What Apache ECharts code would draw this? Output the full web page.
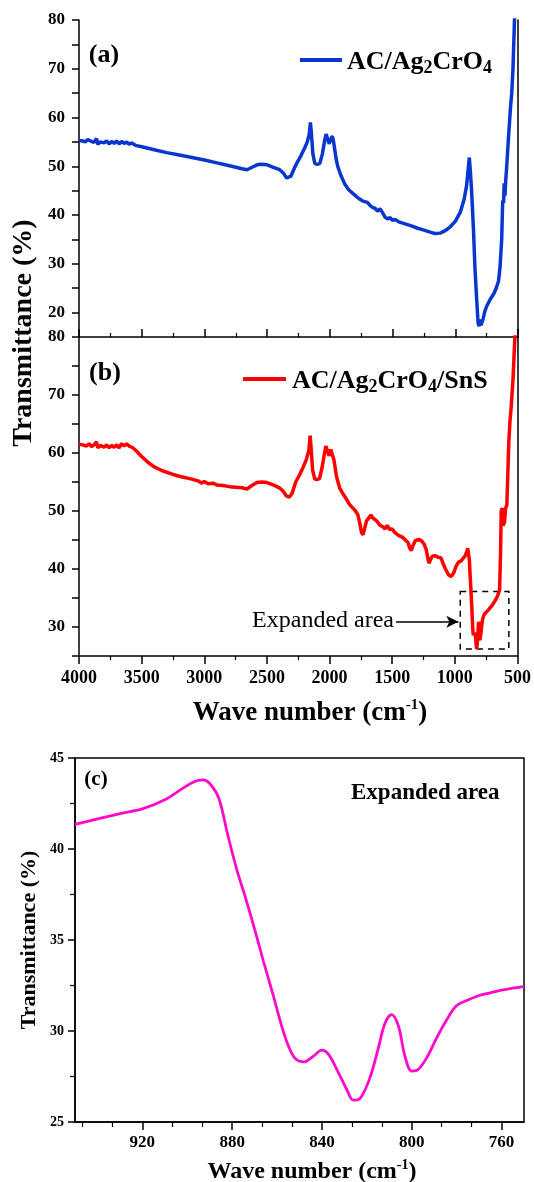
<!DOCTYPE html>
<html>
<head>
<meta charset="utf-8">
<script src="https://cdn.jsdelivr.net/npm/echarts@6/dist/echarts.min.js"></script>
<style>
  html, body { margin: 0; padding: 0; background: #fff; }
  #chart { width: 534px; height: 1182px; }
</style>
</head>
<body>
<div id="chart"></div>
<script>
// FTIR spectra, panel (a) AC/Ag2CrO4
const waveA = [
  4000, 3970, 3950, 3930, 3900, 3880, 3860, 3850, 3830, 3800,
  3780, 3760, 3740, 3720, 3700, 3680, 3660, 3640, 3620, 3600,
  3580, 3550, 3500, 3400, 3300, 3200, 3100, 3000, 2900, 2800,
  2700, 2660, 2620, 2580, 2550, 2500, 2450, 2400, 2370, 2345,
  2330, 2310, 2280, 2260, 2230, 2200, 2180, 2165, 2155, 2148,
  2135, 2120, 2100, 2080, 2060, 2040, 2030, 2020, 2005, 1995,
  1980, 1970, 1950, 1935, 1910, 1880, 1850, 1810, 1770, 1730,
  1700, 1680, 1660, 1640, 1620, 1600, 1580, 1560, 1540, 1520,
  1500, 1480, 1450, 1400, 1350, 1300, 1250, 1200, 1160, 1120,
  1080, 1040, 1000, 960, 930, 910, 895, 888, 880, 870,
  855, 843, 830, 818, 810, 803, 795, 787, 777, 765,
  750, 720, 690, 670, 655, 643, 630, 622, 615, 610,
  604, 598, 590, 577, 560, 550, 540, 528, 520
]
const transA = [
  55.3, 55.2, 55.0, 55.5, 55.1, 54.9, 55.7, 54.5, 55.0, 54.8,
  55.2, 54.6, 55.1, 54.7, 55.2, 54.6, 55.1, 54.7, 55.0, 54.5,
  54.8, 54.3, 54.0, 53.4, 52.8, 52.3, 51.8, 51.3, 50.7, 50.1,
  49.5, 49.3, 49.8, 50.3, 50.4, 50.3, 49.8, 49.3, 48.6, 47.6,
  47.4, 48.0, 49.8, 50.8, 52.2, 53.8, 55.0, 56.5, 59.0, 57.0,
  52.5, 50.6, 50.4, 50.6, 52.5, 55.5, 56.6, 56.2, 54.6, 55.5,
  56.2, 55.0, 51.5, 49.8, 48.0, 46.3, 45.2, 44.3, 43.4, 42.8,
  42.6, 42.0, 41.6, 41.4, 40.8, 41.3, 40.5, 39.6, 39.2, 39.5,
  38.9, 39.1, 38.6, 38.2, 37.8, 37.3, 36.9, 36.5, 36.2, 36.3,
  36.8, 37.6, 38.7, 40.6, 43.2, 46.0, 50.0, 51.8, 49.0, 45.0,
  37.0, 29.0, 23.0, 17.8, 17.2, 18.6, 17.4, 17.6, 18.8, 20.2,
  21.3, 22.8, 24.0, 25.3, 26.5, 29.4, 35.0, 43.0, 42.5, 46.5,
  44.0, 47.0, 50.0, 55.4, 62.0, 65.0, 70.0, 80.0, 85.0
]

// panel (b) AC/Ag2CrO4/SnS
const waveB = [
  4000, 3970, 3940, 3920, 3900, 3880, 3860, 3850, 3830, 3800,
  3780, 3760, 3740, 3720, 3700, 3680, 3660, 3640, 3620, 3600,
  3570, 3540, 3500, 3450, 3400, 3330, 3250, 3200, 3100, 3050,
  3020, 3000, 2970, 2930, 2900, 2850, 2800, 2750, 2700, 2660,
  2620, 2580, 2540, 2500, 2450, 2400, 2370, 2345, 2320, 2300,
  2270, 2240, 2210, 2185, 2165, 2155, 2148, 2135, 2118, 2100,
  2080, 2060, 2040, 2030, 2015, 2005, 1990, 1978, 1965, 1945,
  1920, 1900, 1870, 1840, 1800, 1775, 1760, 1745, 1733, 1720,
  1705, 1690, 1670, 1655, 1640, 1620, 1600, 1575, 1560, 1540,
  1520, 1500, 1480, 1450, 1420, 1395, 1375, 1360, 1348, 1335,
  1315, 1290, 1268, 1245, 1228, 1215, 1207, 1195, 1180, 1160,
  1130, 1110, 1095, 1075, 1050, 1030, 1010, 990, 970, 950,
  940, 920, 905, 897, 893, 889, 884, 879, 874, 868,
  862, 857, 853, 848, 843, 840, 836, 831, 826, 822,
  818, 814, 810, 806, 803, 800, 796, 791, 785, 778,
  765, 750, 730, 700, 680, 660, 643, 635, 630, 622,
  615, 604, 595, 585, 575, 569, 560, 550, 535, 524,
  515
]
const transB = [
  61.5, 61.4, 61.2, 61.6, 61.1, 61.4, 61.9, 60.9, 61.3, 61.0,
  61.4, 60.9, 61.3, 61.0, 61.4, 60.9, 61.6, 61.2, 61.6, 61.2,
  60.9, 60.3, 59.4, 58.4, 57.6, 56.9, 56.3, 56.0, 55.5, 55.2,
  54.8, 55.1, 54.7, 54.8, 54.5, 54.4, 54.2, 54.1, 54.0, 53.8,
  54.4, 54.9, 55.0, 54.9, 54.5, 54.0, 53.4, 52.6, 52.4, 53.0,
  55.0, 56.2, 57.6, 58.9, 60.5, 63.0, 61.0, 57.0, 55.5, 55.4,
  55.6, 57.5, 60.0, 61.2, 60.3, 59.5, 60.6, 60.7, 58.8, 56.0,
  54.0, 53.2, 52.2, 51.1, 50.2, 49.4, 48.0, 46.3, 45.9, 47.0,
  48.3, 48.5, 49.3, 48.8, 49.0, 48.2, 47.6, 47.3, 46.9, 47.5,
  46.8, 46.9, 46.3, 45.8, 45.5, 45.0, 44.6, 43.6, 43.2, 44.0,
  44.9, 45.1, 44.9, 44.3, 43.3, 41.8, 41.0, 41.6, 42.2, 42.3,
  42.0, 41.9, 41.0, 40.0, 39.0, 38.7, 39.3, 40.5, 41.2, 41.4,
  41.7, 42.2, 43.0, 43.6, 43.8, 43.4, 41.5, 39.2, 37.3, 34.8,
  32.1, 29.6, 28.6, 28.3, 28.7, 29.0, 28.5, 27.2, 26.2, 26.5,
  27.9, 29.7, 30.9, 30.0, 28.6, 27.7, 28.0, 29.1, 30.3, 31.4,
  32.2, 32.5, 33.0, 33.8, 34.5, 35.3, 36.4, 43.0, 50.0, 50.5,
  47.5, 48.0, 50.5, 51.0, 58.0, 62.0, 65.5, 68.0, 73.0, 78.5,
  82.0
]

// panel (c) expanded area of (b)
const waveC = [
  950, 940, 930, 920, 910, 903, 897, 893, 890, 886,
  882, 878, 874, 870, 866, 862, 858, 855, 852, 848,
  844, 840, 837, 833, 829, 826, 823, 819, 815, 812,
  809, 806, 803, 800, 797, 793, 789, 785, 780, 775,
  770, 765, 760, 755, 750
]
const transC = [
  41.35, 41.65, 41.95, 42.2, 42.7, 43.25, 43.7, 43.8, 43.6, 42.8,
  40.8, 38.9, 37.3, 35.6, 33.8, 32.1, 30.3, 29.2, 28.5, 28.3,
  28.6, 28.95, 28.7, 27.8, 26.8, 26.2, 26.3, 27.3, 29.0, 30.4,
  30.9, 30.3, 28.6, 27.8, 27.9, 28.6, 29.6, 30.5, 31.4, 31.7,
  31.95, 32.1, 32.25, 32.35, 32.45
]
const ticksC = [760, 800, 840, 880, 920]

// dashed box + arrow in panel (b)
const boxB = [[957, 36.1], [569, 26.2]]
const arrowB = [[1470, 30.9], [972, 30.9]]

const FONT = '"Liberation Serif", "Times New Roman", serif'
const zip = (xs, ys) => xs.map((x, i) => [x, ys[i]])

// minor ticks of (c): two between each labelled tick
const minorC = []
ticksC.forEach(t => {
  ;[1, 2].forEach(k => {
    const v = +(t + k * 40 / 3).toFixed(2)
    if (v < 950) minorC.push(v)
  })
})

const axisLine = { show: true, onZero: false, lineStyle: { color: '#000', width: 1.5 } }

function xWide(grid, showLabel) {
  return {
    type: 'value', gridIndex: grid, min: 500, max: 4000, interval: 500, inverse: true,
    axisLine,
    axisTick: { inside: !showLabel, length: 8, lineStyle: { color: '#000', width: 1.5 } },
    minorTick: { show: true, splitNumber: 2, length: 4, lineStyle: { color: '#000', width: 1.2 } },
    axisLabel: {
      show: showLabel, color: '#000', fontFamily: FONT, fontWeight: 'bold', fontSize: 18, margin: 13,
      formatter: v => String(v),
    },
    splitLine: { show: false },
  }
}

function yMain(grid, min, max) {
  return {
    type: 'value', gridIndex: grid, min, max, interval: 5,
    axisLine,
    axisTick: { length: 7, lineStyle: { color: '#000', width: 1.5 } },
    axisLabel: {
      color: '#000', fontFamily: FONT, fontWeight: 'bold', fontSize: 17, margin: 14,
      formatter: v => (v % 10 === 0 ? String(v) : ''),
    },
    splitLine: { show: false },
  }
}

function yBorder(grid, min, max) {
  return {
    type: 'value', gridIndex: grid, min, max, position: 'right',
    axisLine, axisTick: { show: false }, axisLabel: { show: false }, splitLine: { show: false },
  }
}

function richLabel(size, sub) {
  return {
    n: { fontFamily: FONT, fontWeight: 'bold', fontSize: size, lineHeight: size + 4, fill: '#000' },
    s: { fontFamily: FONT, fontWeight: 'bold', fontSize: sub, lineHeight: sub - 2, verticalAlign: 'bottom', fill: '#000' },
  }
}

function richSup(size, sup) {
  return {
    n: { fontFamily: FONT, fontWeight: 'bold', fontSize: size, lineHeight: size + 4, fill: '#000' },
    u: { fontFamily: FONT, fontWeight: 'bold', fontSize: sup, lineHeight: sup - 2, verticalAlign: 'top', fill: '#000' },
  }
}

const option = {
  animation: false,
  backgroundColor: '#fff',
  grid: [
    { left: 79, right: 16, top: 20, height: 317 },
    { left: 79, right: 16, top: 337, height: 319 },
    { left: 75, right: 10, top: 758, height: 364, show: true, borderColor: '#000', borderWidth: 1.5 },
  ],
  xAxis: [
    xWide(0, false),
    xWide(1, true),
    {
      type: 'value', gridIndex: 2, min: 750, max: 950, inverse: true, position: 'bottom',
      axisLine,
      axisTick: { length: 8, customValues: ticksC, lineStyle: { color: '#000', width: 1.5 } },
      axisLabel: { customValues: ticksC, color: '#000', fontFamily: FONT, fontWeight: 'bold', fontSize: 17, margin: 12 },
      splitLine: { show: false },
    },
    {
      type: 'value', gridIndex: 2, min: 750, max: 950, inverse: true, position: 'bottom',
      axisLine: { show: false },
      axisTick: { length: 5, customValues: minorC, lineStyle: { color: '#000', width: 1.2 } },
      axisLabel: { show: false },
      splitLine: { show: false },
    },
  ],
  yAxis: [
    yMain(0, 15, 80),
    yBorder(0, 15, 80),
    yMain(1, 25, 80),
    yBorder(1, 25, 80),
    {
      type: 'value', gridIndex: 2, min: 25, max: 45, interval: 5,
      axisLine,
      axisTick: { length: 7, lineStyle: { color: '#000', width: 1.5 } },
      minorTick: { show: true, splitNumber: 2, length: 5, lineStyle: { color: '#000', width: 1.2 } },
      axisLabel: { color: '#000', fontFamily: FONT, fontWeight: 'bold', fontSize: 14, margin: 11 },
      splitLine: { show: false },
    },
  ],
  series: [
    {
      type: 'line', xAxisIndex: 0, yAxisIndex: 0, data: zip(waveA, transA),
      showSymbol: false, clip: true, lineStyle: { color: '#0a36d0', width: 3.5 },
    },
    {
      type: 'line', xAxisIndex: 1, yAxisIndex: 2, data: zip(waveB, transB),
      showSymbol: false, clip: true, lineStyle: { color: '#ff0000', width: 3.5 },
      markArea: {
        silent: true,
        itemStyle: { color: 'rgba(0,0,0,0)', borderColor: '#000', borderWidth: 1.5, borderType: [6, 5] },
        label: { show: false },
        data: [[{ coord: boxB[0] }, { coord: boxB[1] }]],
      },
      markLine: {
        silent: true,
        symbol: ['none', 'arrow'],
        symbolSize: [9, 12],
        label: { show: false },
        lineStyle: { color: '#000', width: 1.5, type: 'solid' },
        data: [[{ coord: arrowB[0] }, { coord: arrowB[1] }]],
      },
    },
    {
      type: 'line', xAxisIndex: 2, yAxisIndex: 4, data: zip(waveC, transC),
      showSymbol: false, smooth: 0.35, clip: true,
      lineStyle: { color: '#ff0acb', width: 2.8 },
    },
  ],
  graphic: [
    // shared y title for (a) and (b)
    {
      type: 'text', x: 24, y: 333, rotation: Math.PI / 2,
      style: { text: 'Transmittance (%)', fontFamily: FONT, fontWeight: 'bold', fontSize: 28, fill: '#000', align: 'center', verticalAlign: 'middle' },
    },
    {
      type: 'text', x: 310, y: 713,
      style: { text: '{n|Wave number (cm}{u|-1}{n|)}', align: 'center', verticalAlign: 'middle', rich: richSup(27, 15) },
    },
    { type: 'text', x: 104, y: 55, style: { text: '(a)', fontFamily: FONT, fontWeight: 'bold', fontSize: 26, fill: '#000', align: 'center', verticalAlign: 'middle' } },
    { type: 'text', x: 105, y: 373, style: { text: '(b)', fontFamily: FONT, fontWeight: 'bold', fontSize: 26, fill: '#000', align: 'center', verticalAlign: 'middle' } },
    // legend (a)
    { type: 'line', shape: { x1: 300, y1: 60, x2: 342, y2: 60 }, style: { stroke: '#0a36d0', lineWidth: 4 } },
    {
      type: 'text', x: 347, y: 62,
      style: { text: '{n|AC/Ag}{s|2}{n|CrO}{s|4}', align: 'left', verticalAlign: 'middle', rich: richLabel(26, 18) },
    },
    // legend (b)
    { type: 'line', shape: { x1: 243, y1: 379, x2: 286, y2: 379 }, style: { stroke: '#ff0000', lineWidth: 4 } },
    {
      type: 'text', x: 292, y: 381,
      style: { text: '{n|AC/Ag}{s|2}{n|CrO}{s|4}{n|/SnS}', align: 'left', verticalAlign: 'middle', rich: richLabel(26, 18) },
    },
    { type: 'text', x: 394, y: 621, style: { text: 'Expanded area', fontFamily: FONT, fontSize: 24, fill: '#000', align: 'right', verticalAlign: 'middle' } },
    // panel (c)
    {
      type: 'text', x: 29, y: 940, rotation: Math.PI / 2,
      style: { text: 'Transmittance (%)', fontFamily: FONT, fontWeight: 'bold', fontSize: 22, fill: '#000', align: 'center', verticalAlign: 'middle' },
    },
    {
      type: 'text', x: 312, y: 1172,
      style: { text: '{n|Wave number (cm}{u|-1}{n|)}', align: 'center', verticalAlign: 'middle', rich: richSup(24, 14) },
    },
    { type: 'text', x: 96, y: 780, style: { text: '(c)', fontFamily: FONT, fontWeight: 'bold', fontSize: 21, fill: '#000', align: 'center', verticalAlign: 'middle' } },
    { type: 'text', x: 351, y: 793, style: { text: 'Expanded area', fontFamily: FONT, fontWeight: 'bold', fontSize: 23, fill: '#000', align: 'left', verticalAlign: 'middle' } },
  ],
}

const chart = echarts.init(document.getElementById('chart'), null, { renderer: 'canvas' })
chart.setOption(option)
</script>
</body>
</html>
